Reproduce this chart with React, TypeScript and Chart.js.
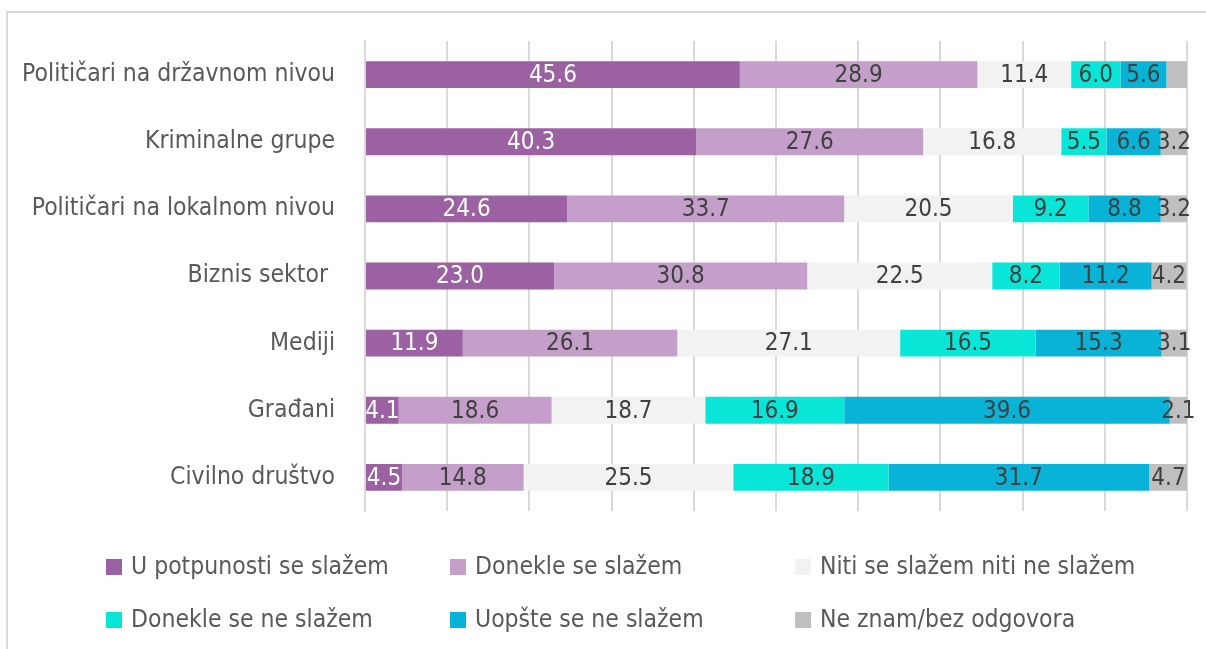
import React, { useEffect, useRef } from "react";
import { Chart, registerables } from "chart.js";

Chart.register(...registerables);

const FONT = "'Liberation Sans Narrow', 'DejaVu Sans Condensed', 'Roboto', sans-serif";

const categories = [
  "Političari na državnom nivou",
  "Kriminalne grupe",
  "Političari na lokalnom nivou",
  "Biznis sektor ",
  "Mediji",
  "Građani",
  "Civilno društvo",
];

const seriesNames = [
  "U potpunosti se slažem",
  "Donekle se slažem",
  "Niti se slažem niti ne slažem",
  "Donekle se ne slažem",
  "Uopšte se ne slažem",
  "Ne znam/bez odgovora",
];

const seriesColors = ["#9b61a2", "#c49fc9", "#f2f2f2", "#09e5d6", "#08b3d7", "#bfbfbf"];
const labelColors = ["#ffffff", "#404040", "#404040", "#404040", "#404040", "#404040"];

const sPotpuno = [45.6, 40.3, 24.6, 23.0, 11.9, 4.1, 4.5];
const sDonekle = [28.9, 27.6, 33.7, 30.8, 26.1, 18.6, 14.8];
const sNiti = [11.4, 16.8, 20.5, 22.5, 27.1, 18.7, 25.5];
const sDonekleNe = [6.0, 5.5, 9.2, 8.2, 16.5, 16.9, 18.9];
const sUopste = [5.6, 6.6, 8.8, 11.2, 15.3, 39.6, 31.7];
const sNeZnam = [2.5, 3.2, 3.2, 4.2, 3.1, 2.1, 4.7];

const seriesValues = [sPotpuno, sDonekle, sNiti, sDonekleNe, sUopste, sNeZnam];

// [datasetIndex, categoryIndex] of labels not shown in the original
const hiddenLabels = [[5, 0]];

const valueLabels = {
  id: "valueLabels",
  afterDatasetsDraw(chart: any) {
    const ctx = chart.ctx;
    ctx.save();
    ctx.font = `24px ${FONT}`;
    ctx.textAlign = "center";
    ctx.textBaseline = "middle";
    chart.data.datasets.forEach((ds: any, di: number) => {
      const meta = chart.getDatasetMeta(di);
      meta.data.forEach((bar: any, i: number) => {
        if (hiddenLabels.some(([d, c]) => d === di && c === i)) return;
        const p = bar.getProps(["x", "y", "base"], true);
        const v = ds.data[i];
        ctx.fillStyle = labelColors[di];
        ctx.fillText(Number(v).toFixed(1), (p.x + p.base) / 2, p.y + 1);
      });
    });
    ctx.restore();
  },
};

const gridLegend = {
  id: "gridLegend",
  afterDraw(chart: any) {
    const ctx = chart.ctx;
    const cols = [106, 450, 795];
    const rows = [567, 620];
    ctx.save();
    ctx.font = `24.5px ${FONT}`;
    ctx.textBaseline = "middle";
    ctx.textAlign = "left";
    chart.data.datasets.forEach((ds: any, i: number) => {
      const x = cols[i % 3];
      const y = rows[Math.floor(i / 3)];
      ctx.fillStyle = ds.backgroundColor;
      ctx.fillRect(x, y - 8, 16, 16);
      ctx.fillStyle = "#595959";
      ctx.fillText(ds.label, x + 25, y + 1);
    });
    ctx.restore();
  },
};

export default function App() {
  const canvasRef = useRef<HTMLCanvasElement | null>(null);

  useEffect(() => {
    document.body.style.overflow = "hidden";
    const canvas = canvasRef.current;
    if (!canvas) return;
    const chart = new Chart(canvas, {
      type: "bar",
      data: {
        labels: categories,
        datasets: seriesValues.map((vals, i) => ({
          label: seriesNames[i],
          data: vals,
          backgroundColor: seriesColors[i],
          borderWidth: 0,
          categoryPercentage: 1,
          barPercentage: 0.4,
        })),
      },
      options: {
        indexAxis: "y",
        responsive: false,
        animation: false,
        devicePixelRatio: 1,
        layout: { padding: { top: 41, bottom: 138, left: 0, right: 19 } },
        plugins: {
          legend: { display: false },
          tooltip: { enabled: false },
        },
        scales: {
          x: {
            stacked: true,
            min: 0,
            max: 100,
            ticks: { display: false, stepSize: 10 },
            grid: { color: "#d9d9d9", lineWidth: 2, drawTicks: false },
            border: { display: false },
            afterFit: (scale: any) => {
              scale.height = 0;
              scale.paddingLeft = 0;
              scale.paddingRight = 0;
              scale.paddingTop = 0;
              scale.paddingBottom = 0;
            },
          },
          y: {
            stacked: true,
            ticks: {
              color: "#595959",
              font: { family: FONT, size: 24.5 },
              padding: 30,
              autoSkip: false,
            },
            grid: { display: false, drawTicks: false },
            border: { display: true, color: "#d9d9d9", width: 2 },
            afterFit: (scale: any) => {
              scale.width = 365;
              scale.paddingTop = 0;
              scale.paddingBottom = 0;
              scale.paddingLeft = 0;
              scale.paddingRight = 0;
            },
          },
        },
      },
      plugins: [valueLabels, gridLegend],
    });
    return () => chart.destroy();
  }, []);

  return (
    <div>
      <div
        style={{
          position: "fixed",
          left: 6,
          top: 11,
          width: 1300,
          height: 700,
          borderTop: "2px solid #d9d9d9",
          borderLeft: "2px solid #d9d9d9",
          boxSizing: "border-box",
        }}
      />
      <div style={{ position: "fixed", left: 0, top: 0, width: 1206, height: 649 }}>
        <canvas ref={canvasRef} width={1206} height={649} style={{ width: 1206, height: 649 }} />
      </div>
    </div>
  );
}
